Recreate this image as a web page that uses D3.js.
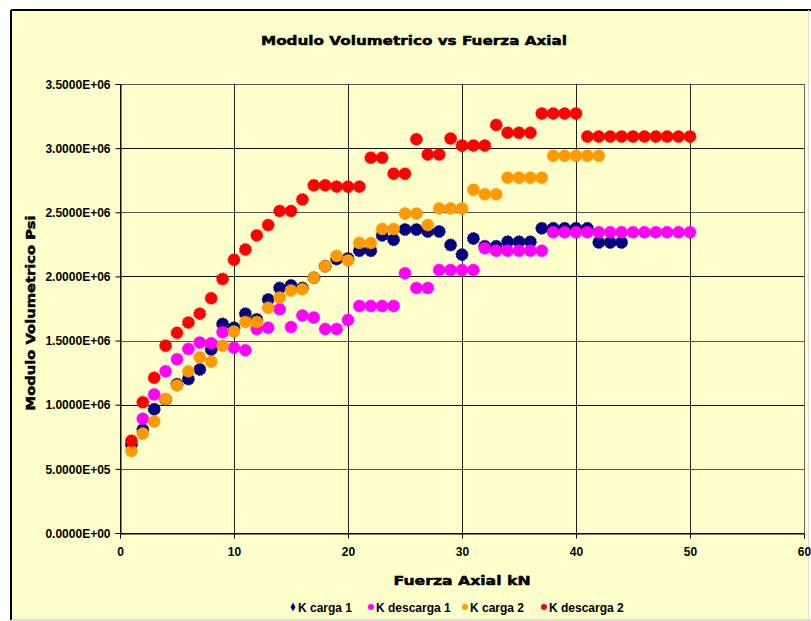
<!DOCTYPE html>
<html>
<head>
<meta charset="utf-8">
<script src="https://cdn.jsdelivr.net/npm/d3@7"></script>
<style>
  body { margin: 0; background: #fff; }
  svg { display: block; }
</style>
</head>
<body>
<div id="chart"></div>
<script>
'use strict';

// x values: fuerza axial (kN)
let x_carga1 = d3.range(1, 45);
let x_descarga1 = d3.range(2, 51);
let x_carga2 = d3.range(1, 43);
let x_descarga2 = d3.range(1, 51);

// modulo volumetrico, in units of 1e6 psi
let k_carga1 = [0.69, 0.805, 0.965, 1.04, 1.16, 1.20, 1.275, 1.43, 1.63, 1.60,
    1.71, 1.665, 1.82, 1.91, 1.93, 1.91, 1.99, 2.08, 2.135, 2.14,
    2.20, 2.20, 2.32, 2.285, 2.365, 2.365, 2.35, 2.35, 2.245, 2.17,
    2.295, 2.235, 2.235, 2.27, 2.27, 2.27, 2.375, 2.375, 2.375, 2.375,
    2.375, 2.265, 2.265, 2.265];
let k_descarga1 = [0.89, 1.08, 1.26, 1.355, 1.435, 1.485, 1.48, 1.565, 1.445,
    1.425, 1.59, 1.60, 1.745, 1.605, 1.695, 1.68, 1.59, 1.59, 1.66,
    1.77, 1.77, 1.77, 1.77, 2.025, 1.91, 1.91, 2.05, 2.05, 2.05, 2.05,
    2.22, 2.20, 2.20, 2.20, 2.20, 2.20, 2.345, 2.345, 2.345, 2.345,
    2.345, 2.345, 2.345, 2.345, 2.345, 2.345, 2.345, 2.345, 2.345];
let k_carga2 = [0.64, 0.775, 0.87, 1.045, 1.15, 1.26, 1.37, 1.335, 1.46, 1.57,
    1.645, 1.645, 1.755, 1.835, 1.89, 1.90, 1.99, 2.08, 2.16, 2.125,
    2.26, 2.26, 2.37, 2.37, 2.49, 2.49, 2.40, 2.53, 2.53, 2.53,
    2.675, 2.64, 2.64, 2.77, 2.77, 2.77, 2.77, 2.94, 2.94, 2.94,
    2.94, 2.94];
let k_descarga2 = [0.72, 1.02, 1.21, 1.46, 1.56, 1.64, 1.71, 1.83, 1.98, 2.13,
    2.21, 2.32, 2.40, 2.51, 2.51, 2.60, 2.71, 2.71, 2.70, 2.70,
    2.70, 2.925, 2.925, 2.80, 2.80, 3.07, 2.95, 2.95, 3.075, 3.02,
    3.02, 3.02, 3.18, 3.12, 3.12, 3.12, 3.27, 3.27, 3.27, 3.27,
    3.09, 3.09, 3.09, 3.09, 3.09, 3.09, 3.09, 3.09, 3.09, 3.09];

let series_names = ['K carga 1', 'K descarga 1', 'K carga 2', 'K descarga 2'];
let series_colours = ['#000080', '#ff00ff', '#ff9900', '#ff0000'];

let x_ticks = [0, 10, 20, 30, 40, 50, 60];
let y_ticks = [0, 0.5e6, 1.0e6, 1.5e6, 2.0e6, 2.5e6, 3.0e6, 3.5e6];

let title_text = 'Modulo Volumetrico vs Fuerza Axial';
let x_title = 'Fuerza Axial kN';
let y_title = 'Modulo Volumetrico Psi';

let width = 811, height = 621;
let plot = {left: 120, right: 804, top: 84, bottom: 533};
let bold_font = '"DejaVu Sans", "Liberation Sans", sans-serif';
let tick_font = '"Liberation Sans", Arial, sans-serif';

let svg = d3.select('#chart').append('svg')
    .attr('width', width)
    .attr('height', height);

// chart frame
svg.append('rect')
    .attr('x', 11).attr('y', 10)
    .attr('width', 797).attr('height', 609)
    .attr('fill', '#ffffcc');
svg.append('line').attr('x1', 11).attr('y1', 10).attr('x2', 811).attr('y2', 10)
    .attr('stroke', '#000').attr('stroke-width', 2);
svg.append('line').attr('x1', 11).attr('y1', 10).attr('x2', 11).attr('y2', 620)
    .attr('stroke', '#000').attr('stroke-width', 2);
svg.append('line').attr('x1', 11).attr('y1', 620).attr('x2', 811).attr('y2', 620)
    .attr('stroke', '#bbb').attr('stroke-width', 1);
svg.append('line').attr('x1', 808.5).attr('y1', 10).attr('x2', 808.5).attr('y2', 620)
    .attr('stroke', '#ddd').attr('stroke-width', 1);

let x = d3.scaleLinear().domain([0, 60]).range([plot.left, plot.right]);
let y = d3.scaleLinear().domain([0, 3.5e6]).range([plot.bottom, plot.top]);

// grid
let grid = svg.append('g').attr('class', 'grid');
grid.selectAll('line.h')
    .data(y_ticks)
    .enter().append('line')
    .attr('class', 'h')
    .attr('x1', plot.left).attr('x2', plot.right)
    .attr('y1', function(d) { return Math.round(y(d)) + 0.5; })
    .attr('y2', function(d) { return Math.round(y(d)) + 0.5; })
    .attr('stroke', function(d, i) { return i % 2 ? '#555' : '#111'; })
    .attr('stroke-width', 1);
grid.selectAll('line.v')
    .data(x_ticks)
    .enter().append('line')
    .attr('class', 'v')
    .attr('y1', plot.top).attr('y2', plot.bottom)
    .attr('x1', function(d) { return Math.round(x(d)) + 0.5; })
    .attr('x2', function(d) { return Math.round(x(d)) + 0.5; })
    .attr('stroke', function(d) { return d == 60 ? '#666' : '#222'; })
    .attr('stroke-width', 1);

// axes
let fmt = function(d) {
    let e = d3.format('.4e')(d).replace('e', 'E');
    return e.replace(/E([+-])(\d)$/, 'E$10$2');
};

let x_axis = svg.append('g')
    .attr('transform', 'translate(0,' + (plot.bottom + 0.5) + ')')
    .call(d3.axisBottom(x).tickValues(x_ticks).tickSize(5).tickPadding(7).tickFormat(d3.format('d')));
let y_axis = svg.append('g')
    .attr('transform', 'translate(' + (plot.left + 0.5) + ',0)')
    .call(d3.axisLeft(y).tickValues(y_ticks).tickSize(5).tickPadding(5).tickFormat(fmt));

[x_axis, y_axis].forEach(function(a) {
    a.select('.domain').attr('stroke', '#000');
    a.selectAll('.tick line').attr('stroke', '#000');
    a.selectAll('.tick text')
        .attr('fill', '#000')
        .style('font-family', tick_font)
        .style('font-weight', 'bold')
        .style('font-size', '12px');
});
x_axis.selectAll('.tick text').attr('dy', '0.9em');
y_axis.selectAll('.tick text').attr('dy', '0.35em');

// series
let all_x = [x_carga1, x_descarga1, x_carga2, x_descarga2];
let all_k = [k_carga1, k_descarga1, k_carga2, k_descarga2];

all_k.forEach(function(vals, s) {
    let pts = vals.map(function(v, i) { return {x: all_x[s][i], y: v * 1e6}; });
    svg.append('g')
        .attr('class', 'series')
        .selectAll('circle')
        .data(pts)
        .enter().append('circle')
        .attr('cx', function(d) { return x(d.x); })
        .attr('cy', function(d) { return y(d.y); })
        .attr('r', 6)
        .attr('fill', series_colours[s])
        .attr('stroke', s == 0 ? '#000050' : series_colours[s])
        .attr('stroke-width', 0.8)
        .attr('stroke-dasharray', '2,1');
});

// titles (a thin stroke to get closer to the heavy original face)
let heavy = function(t) {
    t.style('font-family', bold_font).style('font-weight', 'bold').style('font-size', '13px')
        .attr('stroke', '#000').attr('stroke-width', 0.5);
};

svg.append('text')
    .attr('x', 414).attr('y', 45)
    .attr('text-anchor', 'middle')
    .attr('textLength', 306).attr('lengthAdjust', 'spacingAndGlyphs')
    .call(heavy)
    .text(title_text);

svg.append('text')
    .attr('x', 462).attr('y', 585)
    .attr('text-anchor', 'middle')
    .attr('textLength', 137).attr('lengthAdjust', 'spacingAndGlyphs')
    .call(heavy)
    .text(x_title);

svg.append('text')
    .attr('transform', 'translate(35,313) rotate(-90)')
    .attr('text-anchor', 'middle')
    .attr('textLength', 195).attr('lengthAdjust', 'spacingAndGlyphs')
    .call(heavy)
    .text(y_title);

// legend
let legend_x = [293, 371, 465, 544];
let legend = svg.append('g').attr('class', 'legend');
series_names.forEach(function(name, i) {
    let g = legend.append('g').attr('transform', 'translate(' + legend_x[i] + ',607)');
    if (i == 0) {
        g.append('path')
            .attr('d', d3.symbol().type(d3.symbolDiamond).size(22))
            .attr('fill', series_colours[i]);
    } else {
        g.append('circle').attr('r', 3).attr('fill', series_colours[i]);
    }
    g.append('text')
        .attr('x', 5).attr('y', 4.5)
        .style('font-family', tick_font).style('font-weight', 'bold').style('font-size', '12px')
        .text(name);
});
</script>
</body>
</html>
